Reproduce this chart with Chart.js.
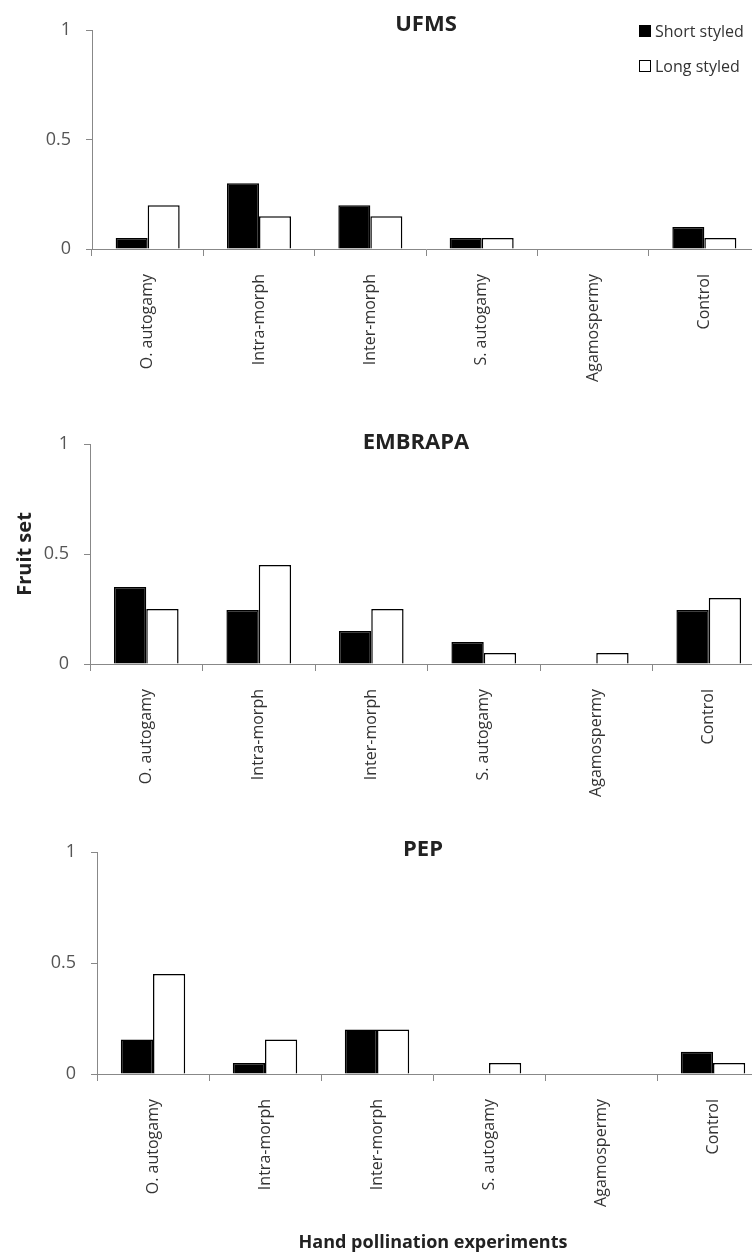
<!DOCTYPE html>
<html>
<head>
<meta charset="utf-8">
<title>Fruit set by hand pollination experiment</title>
<script src="https://cdn.jsdelivr.net/npm/chart.js@4.4.1/dist/chart.umd.min.js"></script>
<style>
  html, body { margin: 0; padding: 0; background: #fff; }
  body { width: 752px; height: 1257px; overflow: hidden; position: relative; font-family: 'Open Sans', sans-serif; }
  canvas { position: absolute; left: 0; }
  .panel-title { position: absolute; transform: translate(-50%, -50%); font-weight: bold; font-size: 22px; color: #222; white-space: nowrap; }
  .legend { position: absolute; left: 639px; font-size: 16px; color: #333; }
  .legend div { position: absolute; left: 0; white-space: nowrap; display: flex; align-items: center; transform: translateY(-50%); }
  .legend span.box { display: inline-block; width: 10px; height: 10px; border: 1px solid #000; margin-right: 4px; box-sizing: content-box; }
</style>
</head>
<body>
<canvas id="ufms"></canvas>
<canvas id="embrapa"></canvas>
<canvas id="pep"></canvas>

<div class="panel-title" style="left:426px; top:22px;">UFMS</div>
<div class="panel-title" style="left:416px; top:440px;">EMBRAPA</div>
<div class="panel-title" style="left:423px; top:847px;">PEP</div>

<div class="legend" style="top:0;">
  <div style="top:31px;"><span class="box" style="background:#000;"></span>Short styled</div>
  <div style="top:66px;"><span class="box" style="background:#fff;"></span>Long styled</div>
</div>

<script>
// pollination treatments on the x axis
const categories = ['O. autogamy', 'Intra-morph', 'Inter-morph', 'S. autogamy', 'Agamospermy', 'Control'];

// fruit set per treatment, short styled vs long styled morphs
const ufmsShort = [0.05, 0.30, 0.20, 0.05, 0, 0.10];
const ufmsLong = [0.20, 0.15, 0.15, 0.05, 0, 0.05];

const embrapaShort = [0.35, 0.245, 0.15, 0.10, 0, 0.245];
const embrapaLong = [0.25, 0.45, 0.25, 0.05, 0.05, 0.30];

const pepShort = [0.155, 0.05, 0.20, 0, 0, 0.10];
const pepLong = [0.45, 0.155, 0.20, 0.05, 0, 0.05];

const yTicks = [0, 0.5, 1];

Chart.defaults.font.family = "'Open Sans', sans-serif";

const panels = [
    { id: 'ufms', short: ufmsShort, long: ufmsLong, top: 0, height: 410, axisX: 92, plotTop: 30, plotBottom: 249, right: 760 },
    { id: 'embrapa', short: embrapaShort, long: embrapaLong, top: 414, height: 410, axisX: 90, plotTop: 444, plotBottom: 664, right: 765, yTitle: 'Fruit set' },
    { id: 'pep', short: pepShort, long: pepLong, top: 822, height: 435, axisX: 97, plotTop: 852, plotBottom: 1074, right: 769, xTitle: 'Hand pollination experiments' }
];

function makePanel(p) {
    const canvas = document.getElementById(p.id);
    canvas.width = p.right;
    canvas.height = p.height;
    canvas.style.top = p.top + 'px';

    new Chart(canvas, {
        type: 'bar',
        data: {
            labels: categories,
            datasets: [{
                label: 'Short styled',
                data: p.short,
                backgroundColor: '#000',
                borderColor: '#000',
                borderWidth: 1.5
            }, {
                label: 'Long styled',
                data: p.long,
                backgroundColor: '#fff',
                borderColor: '#000',
                borderWidth: 1.5
            }]
        },
        options: {
            responsive: false,
            animation: false,
            datasets: {
                bar: { categoryPercentage: 0.575, barPercentage: 1 }
            },
            layout: {
                padding: { top: p.plotTop - p.top, left: 0, right: 0, bottom: 0 }
            },
            plugins: {
                legend: { display: false },
                tooltip: { enabled: false }
            },
            scales: {
                x: {
                    grid: { drawOnChartArea: false, tickLength: 7, color: '#888' },
                    border: { color: '#888' },
                    ticks: {
                        minRotation: 90,
                        maxRotation: 90,
                        autoSkip: false,
                        padding: 18,
                        color: '#333',
                        font: { size: 16 }
                    },
                    title: {
                        display: !!p.xTitle,
                        text: p.xTitle || '',
                        color: '#222',
                        font: { size: 18, weight: 'bold' },
                        padding: { top: 0, bottom: 3 }
                    },
                    afterFit: scale => { scale.height = p.top + p.height - p.plotBottom; }
                },
                y: {
                    min: 0,
                    max: 1,
                    grid: { drawOnChartArea: false, tickLength: 6, color: '#888' },
                    border: { color: '#888' },
                    ticks: {
                        padding: 15,
                        color: '#555',
                        font: { size: 18 },
                        callback: v => String(v)
                    },
                    title: {
                        display: !!p.yTitle,
                        text: p.yTitle || '',
                        color: '#222',
                        font: { size: 20, weight: 'bold' },
                        padding: { top: 13, bottom: 0 }
                    },
                    afterBuildTicks: scale => { scale.ticks = yTicks.map(v => ({ value: v })); },
                    afterFit: scale => { scale.width = p.axisX; }
                }
            }
        }
    });
}

panels.forEach(makePanel);
</script>
</body>
</html>
